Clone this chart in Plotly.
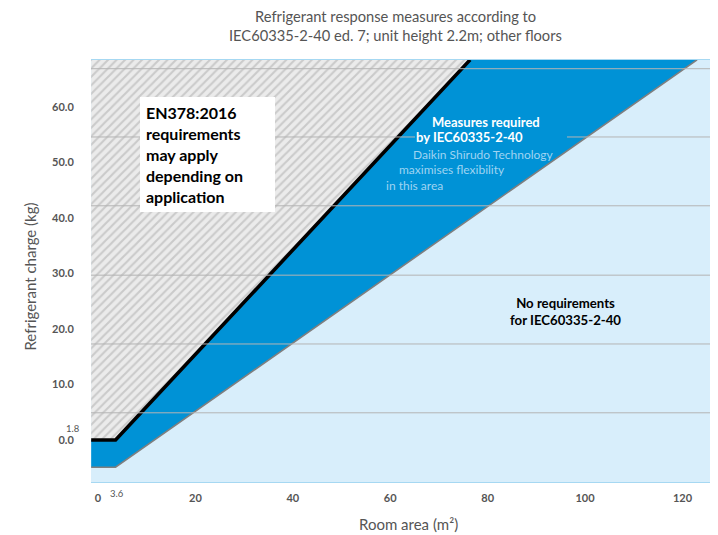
import plotly.graph_objects as go

# ---- data ----
x_ticks = [0, 20, 40, 60, 80, 100, 120]
x_tick_labels = ["0", "20", "40", "60", "80", "100", "120"]
y_ticks = [0, 10, 20, 30, 40, 50, 60]
y_tick_labels = ["0.0", "10.0", "20.0", "30.0", "40.0", "50.0", "60.0"]
grid_levels = [4.9, 17.3, 29.7, 42.2, 54.6, 66.9]

# EN378 limit (black boundary)
en378_area = [-1.4, 3.6, 76.4]
en378_charge = [0.0, 0.0, 68.5]
# IEC60335-2-40 lower boundary (grey line)
iec_area = [-1.4, 3.6, 123.0]
iec_charge = [-4.9, -4.9, 68.5]

x_range = [-1.44, 127.3]
y_range = [-7.57, 68.47]

DARK = "#0092d6"
LIGHT = "#d8eefb"
FONT = "Lato"
GREY_TXT = "#555555"

fig = go.Figure()

# hatched region (above black line)
hx = en378_area + [en378_area[0]]
hy = en378_charge + [y_range[1] + 1]
fig.add_trace(go.Scatter(
    x=hx, y=hy, mode="lines", fill="toself", line=dict(width=0),
    fillcolor="#e9e9e9",
    fillpattern=dict(shape="/", bgcolor="#ebebeb", fgcolor="#aaaaaa", size=6, solidity=0.35),
    hoverinfo="skip", showlegend=False))

# dark blue region between lines
bx = en378_area + iec_area[::-1]
by = en378_charge + iec_charge[::-1]
fig.add_trace(go.Scatter(
    x=bx, y=by, mode="lines", fill="toself", fillcolor=DARK, line=dict(width=0),
    hoverinfo="skip", showlegend=False))

# grey line
fig.add_trace(go.Scatter(x=iec_area, y=iec_charge, mode="lines",
                         line=dict(color="#7f7f7f", width=1.6),
                         hoverinfo="skip", showlegend=False))
# black line
fig.add_trace(go.Scatter(x=en378_area, y=en378_charge, mode="lines",
                         line=dict(color="#000000", width=3.6),
                         hoverinfo="skip", showlegend=False))

shapes = [dict(type="line", xref="paper", x0=0, x1=1, yref="y", y0=g, y1=g,
               line=dict(color="#b4b4b4", width=1), layer="above") for g in grid_levels]

LB = "#9fd4f2"
annotations = [
    # title (two lines)
    dict(x=0.4849, y=1.1043, xref="paper", yref="paper", xanchor="center", yanchor="middle",
         text="Refrigerant response measures according to", showarrow=False,
         font=dict(family=FONT, size=14.7, color=GREY_TXT)),
    dict(x=0.4849, y=1.0592, xref="paper", yref="paper", xanchor="center", yanchor="middle",
         text="IEC60335-2-40 ed. 7; unit height 2.2m; other floors", showarrow=False,
         font=dict(family=FONT, size=14.7, color=GREY_TXT)),
    # EN378 box
    dict(x=22.5, y=51.4, xref="x", yref="y", xanchor="center", yanchor="middle",
         text="<b>EN378:2016<br>requirements<br>may apply<br>depending on<br>application</b>",
         showarrow=False, align="left", bgcolor="white", width=123, height=103,
         borderpad=5, borderwidth=1, bordercolor="white",
         font=dict(family=FONT, size=16, color="black")),
    dict(x=68.2, y=57.3, xref="x", yref="y", xanchor="left",
         text="<b>Measures required</b>", showarrow=False,
         font=dict(family=FONT, size=13, color="white")),
    dict(x=65.1, y=54.6, xref="x", yref="y", xanchor="left",
         text="<b>by IEC60335-2-40</b>", showarrow=False, align="left",
         bgcolor=DARK, width=150, borderpad=1, borderwidth=0,
         font=dict(family=FONT, size=13, color="white")),
    dict(x=64.3, y=51.5, xref="x", yref="y", xanchor="left",
         text="Daikin Shīrudo Technology", showarrow=False,
         font=dict(family=FONT, size=12, color=LB)),
    dict(x=61.4, y=48.8, xref="x", yref="y", xanchor="left",
         text="maximises flexibility", showarrow=False,
         font=dict(family=FONT, size=12, color=LB)),
    dict(x=58.7, y=45.8, xref="x", yref="y", xanchor="left",
         text="in this area", showarrow=False,
         font=dict(family=FONT, size=12, color=LB)),
    dict(x=95.9, y=23.1, xref="x", yref="y", xanchor="center",
         text="<b>No requirements<br>for IEC60335-2-40</b>", showarrow=False,
         font=dict(family=FONT, size=13.2, color="black")),
    # small value labels
    dict(x=-0.0287, y=0.1256, xref="paper", yref="paper", xanchor="center", yanchor="middle",
         text="1.8", showarrow=False,
         font=dict(family=FONT, size=9.5, color=GREY_TXT)),
    dict(x=0.0415, y=-0.0284, xref="paper", yref="paper", xanchor="center", yanchor="middle",
         text="3.6", showarrow=False,
         font=dict(family=FONT, size=9.5, color=GREY_TXT)),
    # axis titles
    dict(x=-0.0965, y=0.488, xref="paper", yref="paper", xanchor="center", yanchor="middle",
         text="Refrigerant charge (kg)", textangle=-90, showarrow=False,
         font=dict(family=FONT, size=15, color=GREY_TXT)),
    dict(x=0.5056, y=-0.0995, xref="paper", yref="paper", xanchor="center", yanchor="middle",
         text="Room area (m²)", showarrow=False,
         font=dict(family=FONT, size=15, color=GREY_TXT)),
]

fig.update_layout(
    width=710, height=527,
    margin=dict(l=83, r=0, t=52, b=53),
    paper_bgcolor="white", plot_bgcolor=LIGHT,
    shapes=shapes, annotations=annotations,
    xaxis=dict(range=x_range, tickvals=x_ticks, ticktext=x_tick_labels,
               showgrid=False, zeroline=False, showline=True, mirror=True,
               linecolor="#a6d8f2", linewidth=1,
               ticks="outside", ticklen=6, tickcolor="rgba(0,0,0,0)",
               tickfont=dict(family=FONT, size=11, color=GREY_TXT, weight="bold")),
    yaxis=dict(range=y_range, tickvals=y_ticks, ticktext=y_tick_labels,
               showgrid=False, zeroline=False, showline=False,
               ticks="outside", ticklen=14, tickcolor="rgba(0,0,0,0)",
               tickfont=dict(family=FONT, size=11, color=GREY_TXT, weight="bold")),
)

fig.write_html("out.html")
